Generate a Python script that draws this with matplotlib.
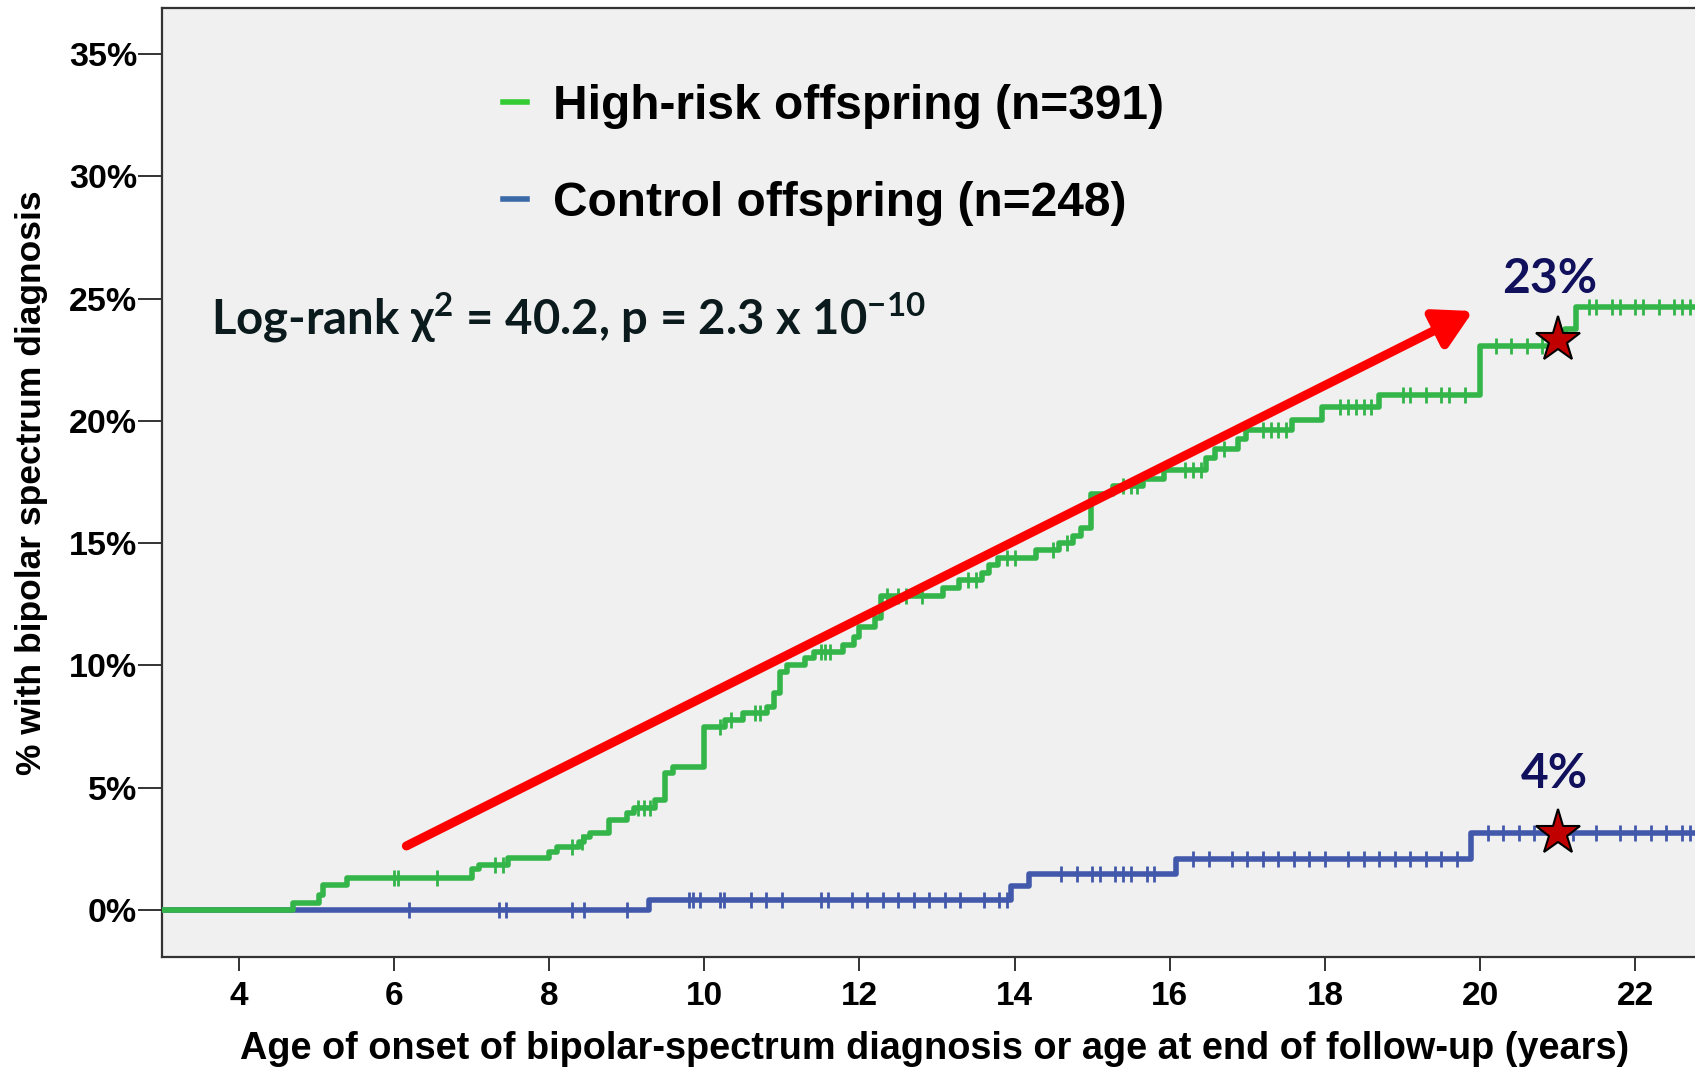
import numpy as np
import matplotlib
matplotlib.use("Agg")
import matplotlib.pyplot as plt
from matplotlib.lines import Line2D

# Kaplan-Meier style cumulative incidence
# high-risk offspring: event ages (years) and cumulative % after each step
hr_times = [4.70, 5.03, 5.08, 5.40, 7.00, 7.10, 7.47, 8.00, 8.10, 8.38, 8.45, 8.53,
            8.77, 9.00, 9.10, 9.37, 9.49, 9.60, 10.00, 10.27, 10.50, 10.81, 10.90,
            10.98, 11.07, 11.30, 11.41, 11.79, 11.93, 12.00, 12.20, 12.28, 13.08,
            13.28, 13.58, 13.67, 13.78, 14.28, 14.57, 14.75, 14.86, 14.99, 15.27,
            15.65, 15.92, 16.47, 16.58, 16.88, 16.98, 17.58, 17.96, 18.70, 20.00,
            21.10, 21.23]
hr_pct = [0.27, 0.60, 1.02, 1.32, 1.66, 1.84, 2.11, 2.38, 2.58, 2.79, 2.97, 3.16,
          3.68, 3.95, 4.16, 4.50, 5.60, 5.86, 7.50, 7.77, 8.04, 8.31, 8.86,
          9.74, 10.02, 10.29, 10.56, 10.83, 11.17, 11.58, 11.93, 12.85, 13.15,
          13.49, 13.80, 14.10, 14.40, 14.72, 15.00, 15.30, 15.60, 17.00, 17.33,
          17.62, 18.00, 18.50, 18.85, 19.25, 19.62, 20.05, 20.55, 21.05, 23.07,
          23.75, 24.67]
hr_censor = [6.00, 6.05, 6.55, 7.30, 7.40, 8.30, 8.42, 9.15, 9.22, 9.30, 10.20, 10.35,
             10.65, 10.72, 11.50, 11.55, 11.62, 12.35, 12.50, 12.60, 12.80, 13.40,
             13.50, 13.90, 14.00, 14.50, 14.68, 15.40, 15.50, 15.58, 16.20, 16.30,
             16.40, 16.70, 17.20, 17.30, 17.40, 17.50, 18.20, 18.30, 18.40, 18.50,
             18.60, 19.00, 19.10, 19.30, 19.50, 19.60, 19.80, 20.20, 20.40, 20.60,
             20.80, 21.40, 21.50, 21.70, 21.80, 22.00, 22.10, 22.30, 22.50, 22.60,
             22.70]

# control offspring
ct_times = [9.29, 13.95, 14.18, 16.08, 19.88]
ct_pct = [0.42, 0.98, 1.47, 2.07, 3.15]
ct_censor = [6.20, 7.35, 7.45, 8.30, 8.45, 9.00, 9.80, 9.85, 9.95, 10.20, 10.25,
             10.60, 10.80, 11.00, 11.50, 11.60, 11.90, 12.10, 12.30, 12.50, 12.70,
             12.90, 13.10, 13.30, 13.60, 13.80, 13.90, 14.60, 14.80, 15.00, 15.10,
             15.30, 15.40, 15.50, 15.70, 15.80, 16.30, 16.50, 16.80, 17.00, 17.20,
             17.40, 17.60, 17.80, 18.00, 18.30, 18.50, 18.70, 18.90, 19.10, 19.30,
             19.50, 19.70, 20.10, 20.30, 20.50, 20.70, 21.20, 21.50, 21.80, 22.00,
             22.20, 22.40, 22.60, 22.70]

labels = ["High-risk offspring (n=391)", "Control offspring (n=248)"]
stat_text = "Log-rank χ$^{2}$ = 40.2, p = 2.3 x 10$^{-10}$"
# highlighted values at age 21
star_age = 21.0
star_pct = [23.3, 3.15]
star_labels = ["23%", "4%"]

GREEN = "#33b54a"
BLUE = "#4259ab"
NAVY = "#10105c"

plt.rcParams["font.family"] = ["Liberation Sans", "DejaVu Sans"]
plt.rcParams["mathtext.fontset"] = "custom"
plt.rcParams["mathtext.rm"] = "Lato:bold"
plt.rcParams["mathtext.it"] = "Lato:bold"
plt.rcParams["mathtext.bf"] = "Lato:bold"


def km_xy(times, pct, end=22.8):
    x = np.concatenate([[0.0], times, [end]])
    y = np.concatenate([[0.0], pct, [pct[-1]]])
    return x, y


def censor_y(times, pct, cens):
    idx = np.searchsorted(times, cens, side="right")
    vals = np.concatenate([[0.0], pct])
    return vals[idx]


fig = plt.figure(figsize=(16.95, 10.68), dpi=100)
ax = fig.add_axes([162 / 1695, 1 - 957 / 1068, 1533 / 1695, 949 / 1068])
ax.set_facecolor("#f0f0f0")

# control first, high-risk on top
x, y = km_xy(ct_times, ct_pct)
ax.step(x, y, where="post", color=BLUE, lw=4, zorder=3)
ax.plot(ct_censor, censor_y(ct_times, ct_pct, ct_censor), ls="none", marker="|",
        ms=11, mew=2, color=BLUE, zorder=3)

x, y = km_xy(hr_times, hr_pct)
ax.step(x, y, where="post", color=GREEN, lw=4, zorder=4)
ax.plot(hr_censor, censor_y(hr_times, hr_pct, hr_censor), ls="none", marker="|",
        ms=11, mew=2, color=GREEN, zorder=4)

# trend arrow
ax.annotate("", xy=(19.91, 24.49), xytext=(6.16, 2.62),
            arrowprops=dict(arrowstyle="-|>,head_length=0.9,head_width=0.5",
                            mutation_scale=25, lw=6.5, color="#ff0000",
                            shrinkA=0, shrinkB=0), zorder=5)

# stars and labels
ax.plot([star_age] * 2, star_pct, ls="none", marker="*", ms=34,
        mfc="#c00000", mec="black", mew=1.5, zorder=6)
ax.text(20.9, 25.24, star_labels[0], ha="center", va="baseline", color=NAVY,
        fontsize=34.5, fontweight="bold", family=["Lato", "DejaVu Sans"])
ax.text(20.96, 4.97, star_labels[1], ha="center", va="baseline", color=NAVY,
        fontsize=34.5, fontweight="bold", family=["Lato", "DejaVu Sans"])

ax.text(3.64, 23.58, stat_text, ha="left", va="baseline", color="#0b1a1c",
        fontsize=34, fontweight="bold", family=["Lato", "DejaVu Sans"])

handles = [Line2D([], [], color="#33cc33", lw=4),
           Line2D([], [], color="#3a6aa8", lw=4)]
leg = ax.legend(handles, labels, loc="upper left",
                bbox_to_anchor=(503 / 1695, 1 - 84 / 1068),
                bbox_transform=fig.transFigure, frameon=False,
                handlelength=0.5, handletextpad=0.55, labelspacing=1.08,
                borderpad=0, borderaxespad=0,
                prop=dict(family="Liberation Sans", weight="bold", size=34.5))

ax.set_xlim(3.01, 22.77)
ax.set_ylim(-1.92, 36.88)
ax.set_xticks(np.arange(4, 23, 2))
ax.set_yticks(np.arange(0, 36, 5))
ax.set_yticklabels([f"{v}%" for v in range(0, 36, 5)])

for side in ["left", "bottom", "top"]:
    ax.spines[side].set_color("#333333")
    ax.spines[side].set_linewidth(1.6)
ax.spines["right"].set_visible(False)

ax.tick_params(axis="y", length=17, width=1.4, pad=1, color="#333333",
               labelsize=24.5)
ax.tick_params(axis="x", length=10, width=1.4, pad=7, color="#333333",
               labelsize=24)
for lab in ax.get_xticklabels() + ax.get_yticklabels():
    lab.set_fontweight("bold")

ax.set_xlabel("Age of onset of bipolar-spectrum diagnosis or age at end of follow-up (years)",
              fontsize=27.3, fontweight="bold")
ax.xaxis.label.set_va("center")
ax.xaxis.set_label_coords(0.504, -0.097)
ax.set_ylabel("% with bipolar spectrum diagnosis", fontsize=25.5, fontweight="bold")
ax.yaxis.label.set_va("center")
ax.yaxis.set_label_coords(-0.085, 0.5)

fig.savefig("out.png", dpi=100)
